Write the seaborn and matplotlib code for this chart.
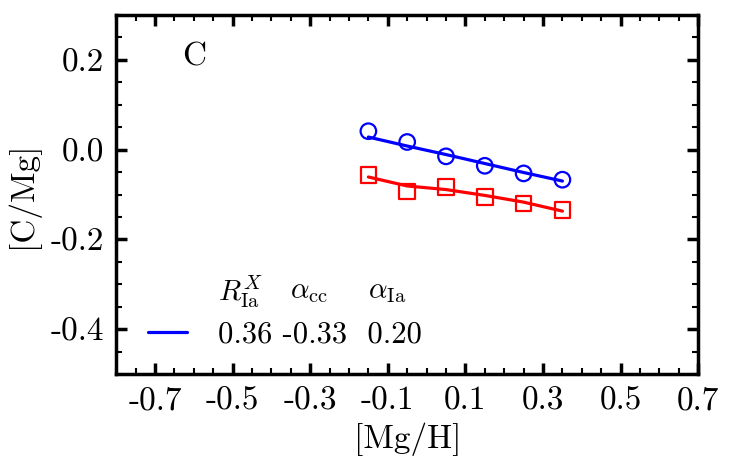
import numpy as np
import pandas as pd
import matplotlib
matplotlib.use("Agg")
import matplotlib.pyplot as plt
from matplotlib.ticker import MultipleLocator, FixedLocator
import seaborn as sns

# data
mgh = [-0.15, -0.05, 0.05, 0.15, 0.25, 0.35]
cmg_blue_obs = [0.041, 0.017, -0.015, -0.036, -0.053, -0.067]
cmg_blue_fit = [0.028, 0.008, -0.011, -0.031, -0.051, -0.070]
cmg_red_obs = [-0.057, -0.093, -0.083, -0.105, -0.120, -0.135]
cmg_red_fit = [-0.061, -0.081, -0.089, -0.102, -0.117, -0.137]
xticks = [-0.7, -0.5, -0.3, -0.1, 0.1, 0.3, 0.5, 0.7]
xticklabels = ["-0.7", "-0.5", "-0.3", "-0.1", "0.1", "0.3", "0.5", "0.7"]
yticks = [0.2, 0.0, -0.2, -0.4]
yticklabels = ["0.2", "0.0", "-0.2", "-0.4"]
legend_vals = "0.36 -0.33  0.20"
header_labels = [r"$R^X_{\rm Ia}$", r"$\alpha_{\rm cc}$", r"$\alpha_{\rm Ia}$"]
header_x = [-0.537, -0.352, -0.150]
panel = "C"


def main():
    sns.set_style("white")
    plt.rcParams["font.family"] = "serif"
    plt.rcParams["font.serif"] = ["cmr10", "DejaVu Serif"]
    plt.rcParams["mathtext.fontset"] = "cm"
    plt.rcParams["axes.unicode_minus"] = False
    plt.rcParams["axes.formatter.use_mathtext"] = True
    plt.rcParams["text.color"] = "black"
    plt.rcParams["axes.labelcolor"] = "black"
    plt.rcParams["xtick.color"] = "black"
    plt.rcParams["ytick.color"] = "black"

    df = pd.DataFrame({"x": mgh, "bo": cmg_blue_obs, "bf": cmg_blue_fit,
                       "ro": cmg_red_obs, "rf": cmg_red_fit})

    fig = plt.figure(figsize=(7.35, 4.67), dpi=100)
    ax = fig.add_axes([0.158, 0.199, 0.792, 0.769])

    sns.lineplot(data=df, x="x", y="bf", color="blue", lw=2.3, ax=ax, label=legend_vals)
    sns.lineplot(data=df, x="x", y="rf", color="red", lw=2.3, ax=ax)
    ax.scatter(df["x"], df["bo"], s=125, marker="o", facecolors="none",
               edgecolors="blue", linewidths=1.6, zorder=3)
    ax.scatter(df["x"], df["ro"], s=125, marker="s", facecolors="none",
               edgecolors="red", linewidths=1.6, zorder=3)

    ax.set_xlim(-0.8, 0.7)
    ax.set_ylim(-0.5, 0.3)
    ax.xaxis.set_major_locator(FixedLocator(xticks))
    ax.set_xticklabels(xticklabels)
    ax.yaxis.set_major_locator(FixedLocator(yticks))
    ax.set_yticklabels(yticklabels)
    ax.xaxis.set_minor_locator(MultipleLocator(0.05))
    ax.yaxis.set_minor_locator(MultipleLocator(0.05))
    ax.tick_params(which="both", direction="in", top=True, right=True,
                   bottom=True, left=True, labelsize=24, width=1.5)
    ax.tick_params(which="major", length=8, width=2.5, pad=9)
    ax.tick_params(which="minor", length=4)
    for sp in ax.spines.values():
        sp.set_linewidth(2.5)
        sp.set_color("black")

    ax.set_xlabel("[Mg/H]", fontsize=24, labelpad=5)
    ax.set_ylabel("[C/Mg]", fontsize=24, labelpad=8)

    ax.text(-0.6, 0.207, panel, fontsize=24, ha="center", va="center")
    for hx, hl in zip(header_x, header_labels):
        ax.text(hx, -0.316, hl, fontsize=21, ha="left", va="center")

    ax.legend(loc="center left", bbox_to_anchor=(0.033, 0.109), frameon=False,
              fontsize=22, handlelength=1.3, handletextpad=1.0, borderaxespad=0)

    fig.savefig("out.png", dpi=100)


if __name__ == "__main__":
    main()
